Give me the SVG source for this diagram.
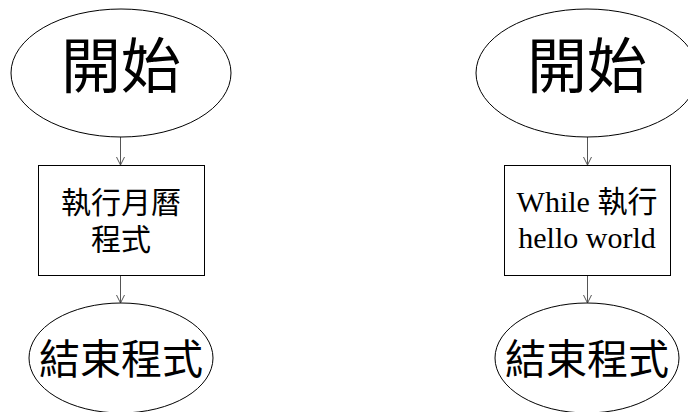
<svg xmlns="http://www.w3.org/2000/svg" width="688" height="412" viewBox="0 0 688 412">
<style>
.shape{fill:#fff;stroke:#000;stroke-width:1}
.t{font-family:"Liberation Serif","Noto Sans CJK TC",serif;fill:#000;text-anchor:middle}
.conn{stroke:#555;stroke-width:1;fill:none}
</style>
<defs>
<marker id="arr" markerWidth="10" markerHeight="10" refX="9" refY="5" orient="auto" markerUnits="userSpaceOnUse">
<polyline points="1,1 9,5 1,9" fill="none" stroke="#555" stroke-width="1"/>
</marker>
</defs>
<rect width="688" height="412" fill="#fff"/>
<g id="connectors">
<line class="conn" x1="120.5" y1="137" x2="120.5" y2="165" marker-end="url(#arr)"/>
<line class="conn" x1="120.5" y1="275" x2="120.5" y2="303" marker-end="url(#arr)"/>
<line class="conn" x1="587.5" y1="137" x2="587.5" y2="165" marker-end="url(#arr)"/>
<line class="conn" x1="587.5" y1="275" x2="587.5" y2="303" marker-end="url(#arr)"/>
</g>
<g id="start1">
<ellipse class="shape" cx="121" cy="73" rx="110" ry="64"/>
<text class="t" x="121" y="88" font-size="60">開始</text>
</g>
<g id="proc1">
<rect class="shape" x="38.5" y="165.5" width="166" height="110"/>
<text class="t" x="121" y="213" font-size="30">執行月曆</text>
<text class="t" x="121" y="250" font-size="30">程式</text>
</g>
<g id="end1">
<ellipse class="shape" cx="121" cy="358" rx="92" ry="55"/>
<text class="t" x="121" y="374" font-size="41">結束程式</text>
</g>
<g id="start2">
<ellipse class="shape" cx="587" cy="73" rx="111" ry="64"/>
<text class="t" x="587" y="88" font-size="60">開始</text>
</g>
<g id="proc2">
<rect class="shape" x="504.5" y="165.5" width="166" height="110"/>
<text class="t" x="587" y="212" font-size="30">While 執行</text>
<text class="t" x="587" y="248" font-size="30">hello world</text>
</g>
<g id="end2">
<ellipse class="shape" cx="587" cy="358" rx="92" ry="55"/>
<text class="t" x="587" y="374" font-size="41">結束程式</text>
</g>
</svg>
